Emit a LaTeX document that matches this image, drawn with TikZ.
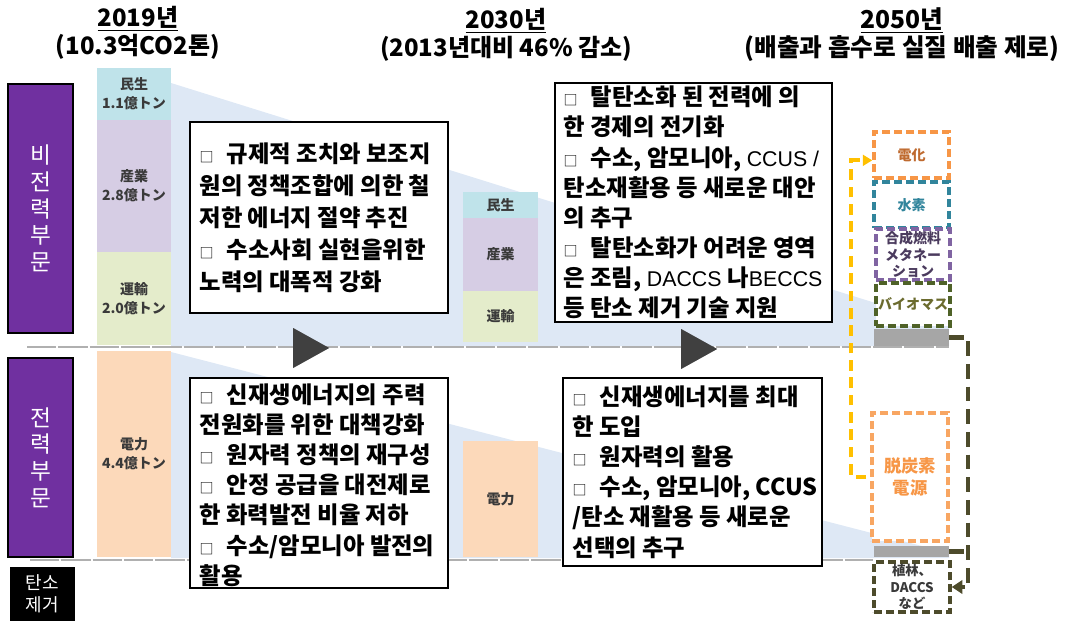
\documentclass[tikz,border=0pt]{standalone}
\usepackage{fontspec}
\setmainfont{Noto Sans CJK KR}
\newfontfamily\jp{Noto Sans CJK JP}
\newfontfamily\lat{Liberation Sans}
\usetikzlibrary{shapes.geometric,arrows.meta,calc}
\definecolor{purp}{HTML}{7030A0}
\definecolor{cmin}{HTML}{BFE3EA}
\definecolor{csan}{HTML}{D6CDE4}
\definecolor{cun}{HTML}{E4ECCB}
\definecolor{cden}{HTML}{FCD9BA}
\definecolor{wedge}{HTML}{DEE8F5}
\definecolor{sepc}{HTML}{B0B0B0}
\definecolor{tri}{HTML}{404040}
\definecolor{orng}{HTML}{F79646}
\definecolor{orngtxt}{HTML}{BF6A2F}
\definecolor{teal}{HTML}{31859C}
\definecolor{vio}{HTML}{8064A2}
\definecolor{viotxt}{HTML}{4B3B5E}
\definecolor{grn}{HTML}{4F6228}
\definecolor{grntxt}{HTML}{6B6B2E}
\definecolor{gry}{HTML}{A6A6A6}
\definecolor{oliv}{HTML}{4D4B2B}
\definecolor{yel}{HTML}{FFC000}
\definecolor{lbl}{HTML}{3A3A3A}
\newcommand\bx{{\mdseries\fontsize{10.5}{10}\selectfont □}\hspace{10pt}}
\newcommand\lt[1]{{\lat\mdseries\fontsize{16}{16}\selectfont #1}}
\begin{document}
\begin{tikzpicture}[x=0.75pt,y=-0.75pt,
  sz/.style 2 args={minimum width=#1*0.75pt, minimum height=#2*0.75pt, inner sep=0pt},
  seg/.style={draw=none, text=lbl, align=center, font=\jp\bfseries\fontsize{10.5}{14}\selectfont},
  sect/.style={fill=purp, draw=black, line width=0.8pt, text=white, align=center, font=\fontsize{17}{20}\selectfont},
  title/.style={align=center, font=\bfseries\fontsize{18}{21}\selectfont},
  tbox/.style={draw=black, fill=white, line width=1pt},
  ttext/.style={anchor=west, align=left, inner sep=0pt},
  tri/.style={isosceles triangle, isosceles triangle stretches, fill=tri, draw=none, inner sep=0pt, minimum width=40*0.75pt, minimum height=36*0.75pt},
  fbox/.style={dash pattern=on 6pt off 3pt, line width=2.6pt, fill=white, align=center, font=\jp\bfseries\fontsize{10.5}{12.5}\selectfont},
  gbox/.style={fill=gry, draw=none},
  sep/.style={draw=sepc, line width=0.8pt, dash pattern=on 22pt off 1.5pt},
  yarr/.style={draw=yel, line width=3pt, dash pattern=on 8pt off 5pt, -{Triangle[length=7pt,width=8pt]}},
  oarr/.style={draw=oliv, line width=3.2pt, dash pattern=on 11pt off 6pt}
]
\useasboundingbox (0,0) rectangle (1072,621);

% wedges
\fill[wedge] (171,83) -- (949,326) -- (949,346) -- (171,346) -- cycle;
\fill[wedge] (171,352) -- (949,553) -- (949,558) -- (171,558) -- cycle;

% separators
\draw[sep] (27,347) -- (949,347);
\draw[sep] (30,560) -- (873,560);

% titles
\node[title] (t19) at (138,33) {\underline{2019년}\\(10.3억CO2톤)};
\node[title] (t30) at (506,35) {\underline{2030년}\\(2013년대비 46\% 감소)};
\node[title, font=\bfseries\fontsize{18.5}{21}\selectfont] (t50) at (902,35) {\underline{2050년}\\(배출과 흡수로 실질 배출 제로)};

% sector labels
\node[sect, sz={65}{249}] (nonp) at (40.5,208.5) {비\\전\\력\\부\\문};
\node[sect, sz={65}{199}] (pow) at (40.5,457.5) {전\\력\\부\\문};
\node[fill=black, draw=none, text=white, align=center, sz={65}{54}, font=\fontsize{13.5}{16.5}\selectfont] (rem) at (42.5,594) {탄소\\제거};

% 2019 column
\node[seg, fill=cmin, sz={74}{52}] (a1) at (134,94) {民生\\1.1億トン};
\node[seg, fill=csan, sz={74}{132}] (a2) at (134,186) {産業\\2.8億トン};
\node[seg, fill=cun, sz={74}{93}] (a3) at (134,298.5) {運輸\\2.0億トン};
\node[seg, fill=cden, sz={74}{206}] (a4) at (134,454) {電力\\4.4億トン};

% 2030 column
\node[seg, fill=cmin, sz={75}{26}] (b1c) at (500.5,205) {民生};
\node[seg, fill=csan, sz={75}{73}] (b2c) at (500.5,254.5) {産業};
\node[seg, fill=cun, sz={75}{51}] (b3c) at (500.5,316.5) {運輸};
\node[seg, fill=cden, sz={75}{116}] (b4c) at (500.5,499) {電力};

% arrows (triangles)
\node[tri] (tr1) at (305,348) {};
\node[tri] (tr2) at (693,349) {};

% text boxes
\node[tbox, sz={258}{191}] (bx1) at (319,217.5) {};
\node[ttext, font=\bfseries\fontsize{17.5}{24}\selectfont] (tx1) at ($(bx1.west)+(10,0)$) {\bx 규제적 조치와 보조지\\원의 정책조합에 의한 철\\저한 에너지 절약 추진\\\bx 수소사회 실현을위한\\노력의 대폭적 강화};

\node[tbox, sz={277}{239}] (bx2) at (693.5,202.5) {};
\node[ttext, font=\bfseries\fontsize{17.5}{22.6}\selectfont] (tx2) at ($(bx2.west)+(9,0)$) {\bx 탈탄소화 된 전력에 의\\한 경제의 전기화\\\bx 수소, 암모니아, \lt{CCUS /}\\탄소재활용 등 새로운 대안\\의 추구\\\bx 탈탄소화가 어려운 영역\\은 조림, \lt{DACCS }나\lt{BECCS}\\등 탄소 제거 기술 지원};

\node[tbox, sz={258}{210}] (bx3) at (319,483) {};
\node[ttext, font=\bfseries\fontsize{17.5}{22.6}\selectfont] (tx3) at ($(bx3.west)+(10,2)$) {\bx 신재생에너지의 주력\\전원화를 위한 대책강화\\\bx 원자력 정책의 재구성\\\bx 안정 공급을 대전제로\\한 화력발전 비율 저하\\\bx 수소/암모니아 발전의\\활용};

\node[tbox, sz={259}{188}] (bx4) at (692.5,472) {};
\node[ttext, font=\bfseries\fontsize{17.5}{22.6}\selectfont] (tx4) at ($(bx4.west)+(10,0)$) {\bx 신재생에너지를 최대\\한 도입\\\bx 원자력의 활용\\\bx 수소, 암모니아, CCUS\\/탄소 재활용 등 새로운\\선택의 추구};

% 2050 column
\node[fbox, draw=orng, text=orngtxt, sz={75}{46}] (denka) at (911.5,155) {電化};
\node[fbox, draw=teal, text=teal, sz={75}{46}] (h2) at (911.5,205) {水素};
\node[fbox, draw=vio, text=viotxt, sz={74}{51}] (syn) at (913,254.5) {合成燃料\\メタネー\\ション};
\node[fbox, draw=grn, text=grntxt, sz={74}{43}] (bio) at (913,304.5) {バイオマス};
\node[gbox, sz={75}{17}] (g1) at (911.5,337.5) {};
\node[fbox, draw=orng!85!white, text=orng, sz={76}{128}, font=\jp\bfseries\fontsize{13}{17}\selectfont] (dtan) at (910,477) {脱炭素\\電源};
\node[gbox, sz={75}{11}] (g2) at (911.5,551.5) {};
\node[fbox, draw=oliv, text=lbl, sz={76}{50}, font=\jp\bfseries\fontsize{10}{12.5}\selectfont] (plant) at (912,587) {植林、\\DACCS\\など};

% connectors
\draw[yarr, shorten <=3pt] (dtan.west) -- ++(-19,0) |- ([yshift=-4pt]denka.west);
\draw[oarr, -{Triangle[length=8pt,width=10pt]}] (g1.east) -- ++(19,0) |- (plant.east);
\draw[oarr] (g2.east) -- ++(19,0);
\end{tikzpicture}
\end{document}
